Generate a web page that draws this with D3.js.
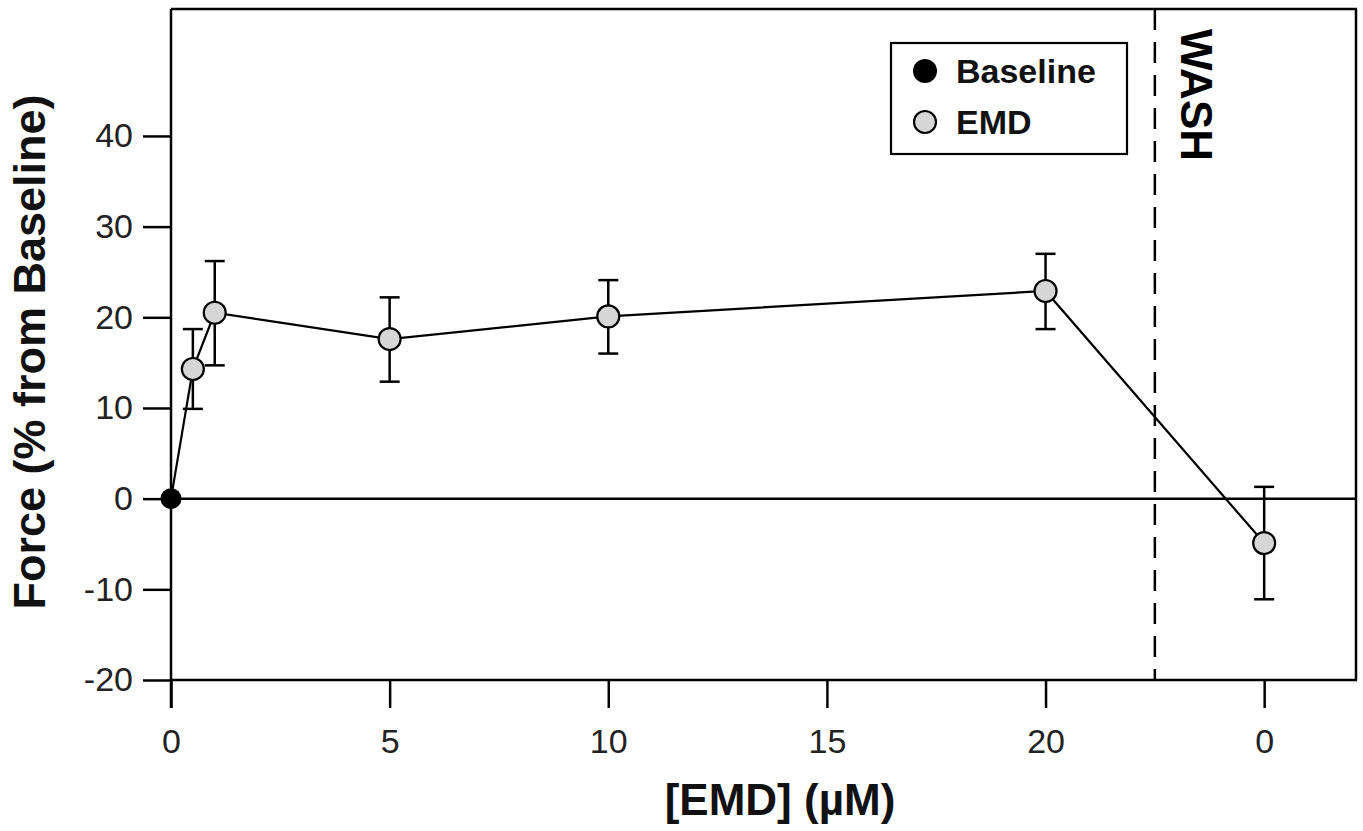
<!DOCTYPE html>
<html>
<head>
<meta charset="utf-8">
<script src="https://cdn.jsdelivr.net/npm/d3@7"></script>
<style>
  html, body { margin: 0; padding: 0; background: #fff; }
  svg { display: block; font-family: "Liberation Sans", Arial, sans-serif; }
</style>
</head>
<body>
<svg id="chart" width="1363" height="831"></svg>
<script>
// ---- data ----
const baselineX = [0];
const baselineY = [0];
const emdX = [0.5, 1, 5, 10, 20, 25];
const emdY = [14.3, 20.5, 17.6, 20.1, 22.9, -4.9];
const emdUpper = [18.7, 26.2, 22.2, 24.1, 27.0, 1.3];
const emdLower = [9.9, 14.7, 12.9, 16.0, 18.7, -11.1];
const xTickValues = [0, 5, 10, 15, 20, 25];
const xTickLabels = ["0", "5", "10", "15", "20", "0"];
const yTickValues = [-20, -10, 0, 10, 20, 30, 40];
const washX = [22.5];
const legendLabels = ["Baseline", "EMD"];

// ---- layout ----
const svg = d3.select("#chart");
const x = d3.scaleLinear().domain([0, 27.1]).range([171, 1356]);
const y = d3.scaleLinear().domain([-20, 54]).range([680, 9]);
const tickLen = 28;
const lw = 2.5;

// y axis ticks
const yAxis = d3.axisLeft(y).tickValues(yTickValues).tickSize(tickLen).tickPadding(10).tickFormat(d3.format("d"));
const gy = svg.append("g").attr("transform", `translate(${x(0)},0)`).call(yAxis);
gy.select(".domain").remove();
gy.selectAll(".tick line").attr("stroke", "#000").attr("stroke-width", lw);
gy.selectAll(".tick text").attr("font-size", 34).attr("fill", "#222")
  .attr("font-family", "'Liberation Sans', Arial, sans-serif")
  .text(d => d < 0 ? "-" + Math.abs(d) : d);

// x axis ticks
const xAxis = d3.axisBottom(x).tickValues(xTickValues).tickSize(tickLen).tickPadding(21)
  .tickFormat((d, i) => xTickLabels[i]);
const gx = svg.append("g").attr("transform", `translate(0,${y(-20)})`).call(xAxis);
gx.select(".domain").remove();
gx.selectAll(".tick line").attr("stroke", "#000").attr("stroke-width", lw);
gx.selectAll(".tick text").attr("font-size", 34).attr("fill", "#222")
  .attr("font-family", "'Liberation Sans', Arial, sans-serif");

// frame lines
const [x0, x1] = x.range();
const yTop = y.range()[1];
const frame = svg.append("g").attr("stroke", "#000").attr("stroke-width", lw).attr("fill", "none");
frame.append("line").attr("x1", x0).attr("x2", x0).attr("y1", yTop).attr("y2", y(-20) + tickLen);
frame.append("line").attr("x1", x0).attr("x2", x1 + 1).attr("y1", yTop).attr("y2", yTop);
frame.append("line").attr("x1", x1).attr("x2", x1).attr("y1", yTop).attr("y2", y(-20));
frame.append("line").attr("x1", x0).attr("x2", x1 + 1).attr("y1", y(-20)).attr("y2", y(-20));
frame.append("line").attr("x1", x0).attr("x2", x1).attr("y1", y(0)).attr("y2", y(0));

// wash dashed line
svg.append("line")
  .attr("x1", x(washX[0])).attr("x2", x(washX[0]))
  .attr("y1", yTop).attr("y2", y(-20))
  .attr("stroke", "#000").attr("stroke-width", lw).attr("stroke-dasharray", "21,12");

svg.append("text")
  .attr("transform", `translate(1181,95) rotate(90)`)
  .attr("text-anchor", "middle")
  .attr("font-size", 44).attr("font-weight", "bold").attr("fill", "#000")
  .text("WASH");

// connecting line (baseline + EMD)
const lineData = baselineX.map((d, i) => [d, baselineY[i]]).concat(emdX.map((d, i) => [d, emdY[i]]));
svg.append("path")
  .datum(lineData)
  .attr("fill", "none").attr("stroke", "#000").attr("stroke-width", 2.2)
  .attr("d", d3.line().x(d => x(d[0])).y(d => y(d[1])));

// error bars
const eb = svg.append("g").attr("stroke", "#000").attr("stroke-width", lw);
emdX.forEach((d, i) => {
  const cx = x(d);
  eb.append("line").attr("x1", cx).attr("x2", cx).attr("y1", y(emdUpper[i])).attr("y2", y(emdLower[i]));
  eb.append("line").attr("x1", cx - 10).attr("x2", cx + 10).attr("y1", y(emdUpper[i])).attr("y2", y(emdUpper[i]));
  eb.append("line").attr("x1", cx - 10).attr("x2", cx + 10).attr("y1", y(emdLower[i])).attr("y2", y(emdLower[i]));
});

// EMD markers
svg.append("g").selectAll("circle")
  .data(emdX.map((d, i) => [d, emdY[i]]))
  .join("circle")
  .attr("cx", d => x(d[0])).attr("cy", d => y(d[1])).attr("r", 11)
  .attr("fill", "#d6d6d6").attr("stroke", "#000").attr("stroke-width", 2.2);

// Baseline marker
svg.append("g").selectAll("circle")
  .data(baselineX.map((d, i) => [d, baselineY[i]]))
  .join("circle")
  .attr("cx", d => x(d[0])).attr("cy", d => y(d[1])).attr("r", 10.5)
  .attr("fill", "#000");

// axis titles
svg.append("text")
  .attr("transform", `translate(45,352) rotate(-90)`)
  .attr("text-anchor", "middle")
  .attr("font-size", 45).attr("font-weight", "bold").attr("fill", "#111")
  .text("Force (% from Baseline)");

svg.append("text")
  .attr("x", 780).attr("y", 815)
  .attr("text-anchor", "middle")
  .attr("font-size", 44).attr("font-weight", "bold").attr("fill", "#111")
  .text("[EMD] (µM)");

// legend
const lg = svg.append("g");
lg.append("rect").attr("x", 891).attr("y", 43).attr("width", 236).attr("height", 111)
  .attr("fill", "#fff").attr("stroke", "#000").attr("stroke-width", 2.2);
const legendFill = ["#000", "#d6d6d6"];
legendLabels.forEach((lab, i) => {
  const cy = 71 + i * 51;
  lg.append("circle").attr("cx", 925).attr("cy", cy).attr("r", i === 0 ? 12 : 11)
    .attr("fill", legendFill[i]).attr("stroke", "#000").attr("stroke-width", i === 0 ? 0 : 2.2);
  lg.append("text").attr("x", 956).attr("y", cy + 12)
    .attr("font-size", 34).attr("font-weight", "bold").attr("fill", "#111")
    .text(lab);
});
</script>
</body>
</html>
